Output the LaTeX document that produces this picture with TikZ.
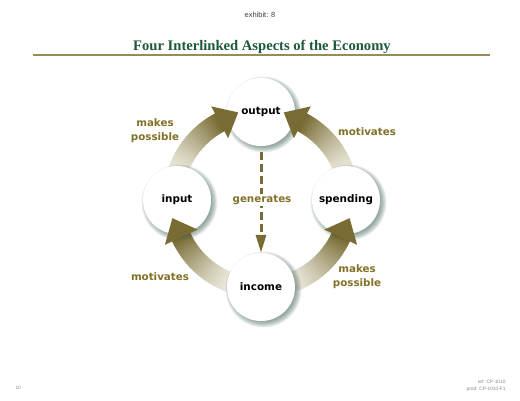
\documentclass[tikz,border=0pt]{standalone}
\usepackage{fontspec}
\setmainfont{Liberation Serif}
\newfontfamily\labfont{DejaVu Sans}
\newfontfamily\smallfont{Liberation Sans}
\usetikzlibrary{calc,arrows.meta}
\definecolor{titlegreen}{RGB}{28,88,58}
\definecolor{ruleolive}{RGB}{150,140,85}
\definecolor{olivetext}{RGB}{128,113,38}
\definecolor{arrdark}{RGB}{120,108,52}
\definecolor{arrpale}{RGB}{240,238,226}
\definecolor{shadowcol}{RGB}{60,95,85}
\definecolor{footgray}{RGB}{135,135,135}
\newcommand\gradarc[2]{%
  \foreach \i in {0,...,39}{%
    \pgfmathsetmacro\aa{#1+(#2-#1)*\i/40}%
    \pgfmathsetmacro\bb{#1+(#2-#1)*(\i+1.5)/40}%
    \pgfmathsetmacro\pp{100*(\i/39)^1.4}%
    \draw[arcbody, draw=arrdark!\pp!arrpale] ([shift={(\aa:88)}]C) arc[start angle=\aa, end angle=\bb, radius=88];
  }}
\newcommand\headat[2]{%
  \fill[arrdark] ([shift={(#1:70)}]C) -- ([shift={(#1:106)}]C) -- ($(C)+(#1:88)+(#2:21)$) -- cycle;}
\newcommand\bubshadow[1]{%
  \foreach \k in {0,...,7}{%
    \fill[shadowcol, opacity=0.085] ($(#1)+(2.5,-2.5)$) circle ({38-\k*0.8});
  }}
\begin{document}
\begin{tikzpicture}[x=1pt,y=1pt,
  arcbody/.style={line width=20pt},
  bubble/.style={circle, fill=white, minimum size=68pt, inner sep=0pt,
    font=\labfont\bfseries\fontsize{10.4}{12}\selectfont, text=black},
  lab/.style={align=center, text=olivetext,
    font=\labfont\bfseries\fontsize{10.3}{14}\selectfont},
  dasharrow/.style={draw=arrdark, line width=3pt, dash pattern=on 8pt off 4pt,
    -{Triangle[length=18pt,width=10pt]}},
  foot/.style={text=footgray, font=\smallfont\fontsize{4.8}{7}\selectfont}]
\useasboundingbox (0,0) rectangle (520,400);
\fill[white] (0,0) rectangle (520,400);
% header
\node[text=black!75, font=\smallfont\fontsize{7.5}{9}\selectfont] (exh) at (260,385) {exhibit: 8};
\node[text=titlegreen, font=\bfseries\fontsize{14.6}{17}\selectfont] (title) at (262,353.5) {Four Interlinked Aspects of the Economy};
\coordinate (rl) at (33,345);
\coordinate (rr) at (490,345);
\draw[ruleolive, line width=1.3pt] (rl) -- (rr);
% centre of the ring
\coordinate (C) at (261,200);
\coordinate (pOut) at (261,288);
\coordinate (pIn) at (177,200);
\coordinate (pSp) at (346,200);
\coordinate (pInc) at (261,113);
% arrow bodies
\gradarc{166}{118}
\gradarc{14}{62}
\gradarc{254}{205}
\gradarc{286}{335}
% shadows
\bubshadow{pOut}
\bubshadow{pIn}
\bubshadow{pSp}
\bubshadow{pInc}
% circles
\node[bubble] (output) at (pOut) {output};
\node[bubble] (input) at (pIn) {input};
\node[bubble] (spending) at (pSp) {spending};
\node[bubble] (income) at (pInc) {income};
% arrow heads
\headat{118}{28}
\headat{62}{152}
\headat{205}{115}
\headat{335}{65}
% dashed arrow
\draw[dasharrow] ([yshift=-6pt]output.south) -- (income.north);
% labels
\node[lab, fill=white, inner sep=1.5pt] (gen) at (262,200) {generates};
\node[lab] (mp1) at (155,269.5) {makes\\possible};
\node[lab] (mo1) at (367,268) {motivates};
\node[lab] (mo2) at (160,123) {motivates};
\node[lab] (mp2) at (357,123.5) {makes\\possible};
% footer
\node[foot, anchor=west] (pg) at (12,12) {10};
\node[foot, anchor=east] (ref) at (509,18) {ref: CP-1010};
\node[foot, anchor=east] (prod) at (509,11) {prod: CP-1010-F1};
\end{tikzpicture}
\end{document}
